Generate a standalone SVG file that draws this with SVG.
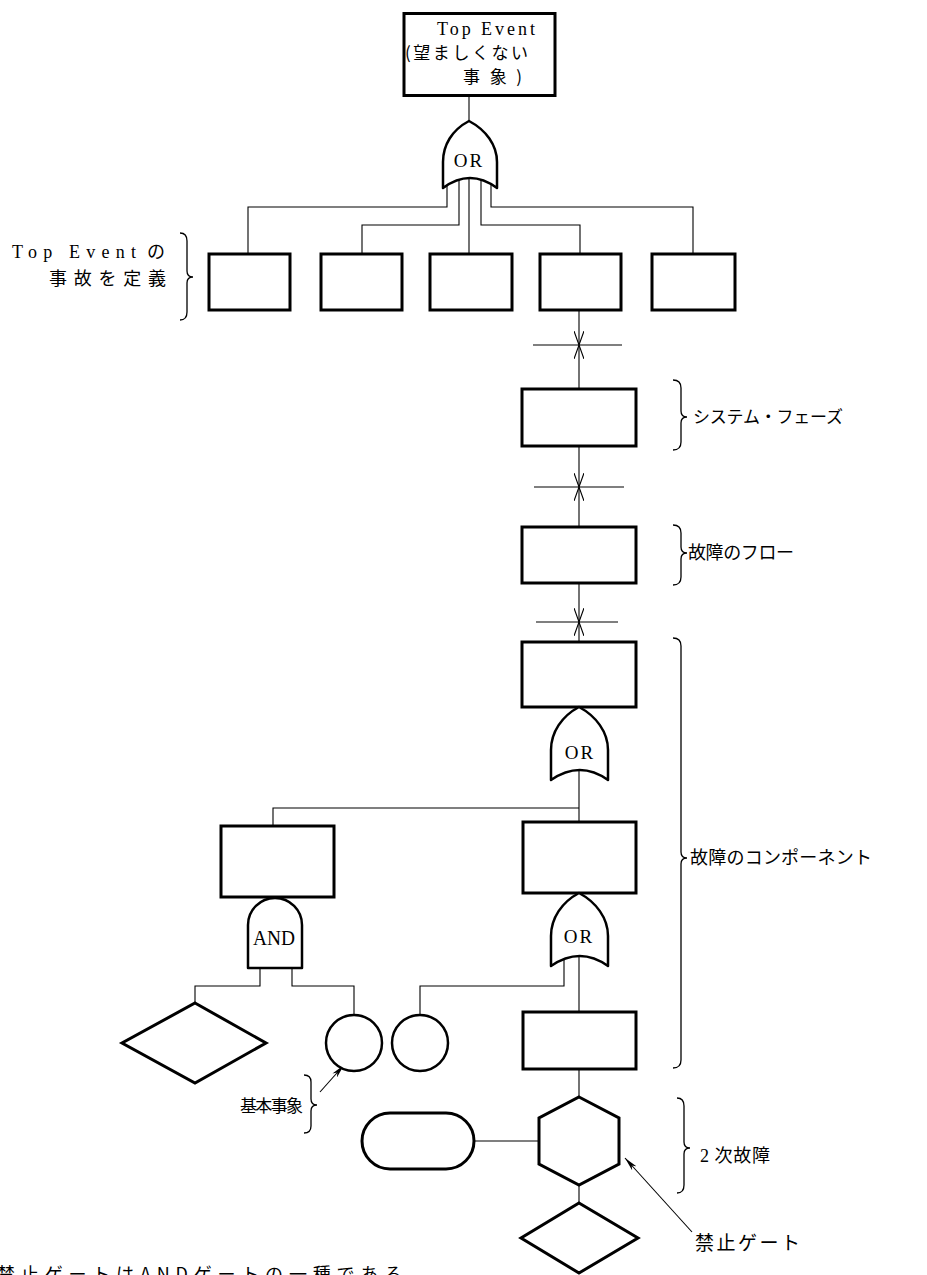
<svg xmlns="http://www.w3.org/2000/svg" width="927" height="1275" viewBox="0 0 927 1275">
  <defs>
    <style>
      .box { fill: #fff; stroke: #000; stroke-width: 3; }
      .gate { fill: #fff; stroke: #000; stroke-width: 2.5; stroke-linejoin: round; }
      .wire { fill: none; stroke: #000; stroke-width: 1.1; }
      .brace { fill: none; stroke: #000; stroke-width: 1.3; }
      .lat { font-family: "Liberation Serif", "Noto Sans CJK JP", serif; fill: #000; }
      .jp { font-family: "Noto Sans CJK JP", "Liberation Serif", sans-serif; font-weight: 400; fill: #000; }
    </style>
    <!-- open V arrowhead used on the phase chain -->
    <marker id="vhead" markerUnits="userSpaceOnUse" markerWidth="14" markerHeight="10" viewBox="0 0 14 10" refX="14" refY="5" orient="auto">
      <path d="M0,0 L14,5 L0,10" fill="none" stroke="#000" stroke-width="1.1"/>
    </marker>
    <!-- slim solid pointer for callouts -->
    <marker id="ptr" markerUnits="userSpaceOnUse" markerWidth="14" markerHeight="6" viewBox="0 0 14 6" refX="14" refY="3" orient="auto">
      <path d="M0,0 L14,3 L0,6 L4,3 Z" fill="#000"/>
    </marker>
    <path id="orShape" d="M0,0 C17,9 29,25 29,43 L29,73 Q1,53 -28,73 L-28,43 C-28,25 -17,9 0,0 Z"/>
  </defs>

  <!-- connectors -->
  <g id="connectors">
    <path class="wire" d="M469,96 V121"/>
    <!-- top OR fan-out -->
    <path class="wire" d="M447,175 V207 H248 V254"/>
    <path class="wire" d="M459,175 V225 H362 V254"/>
    <path class="wire" d="M469,175 V254"/>
    <path class="wire" d="M481,175 V225 H580 V254"/>
    <path class="wire" d="M491,175 V207 H693 V254"/>
    <!-- phase chain with boundary marks -->
    <path class="wire" d="M579,310 V345" marker-end="url(#vhead)"/>
    <path class="wire" d="M579,389 V345" marker-end="url(#vhead)"/>
    <path class="wire" d="M533,345 H622"/>
    <path class="wire" d="M579,446 V487" marker-end="url(#vhead)"/>
    <path class="wire" d="M579,527 V487" marker-end="url(#vhead)"/>
    <path class="wire" d="M534,487 H624"/>
    <path class="wire" d="M579,583 V622" marker-end="url(#vhead)"/>
    <path class="wire" d="M579,642 V622" marker-end="url(#vhead)"/>
    <path class="wire" d="M536,622 H618"/>
    <!-- component level -->
    <path class="wire" d="M579,760 V822"/>
    <path class="wire" d="M579,808 H273 V826"/>
    <path class="wire" d="M260,960 V986 H195 V1003"/>
    <path class="wire" d="M292,960 V986 H354 V1015"/>
    <path class="wire" d="M579,950 V1012"/>
    <path class="wire" d="M564,955 V986 H420 V1015"/>
    <path class="wire" d="M579,1069 V1097"/>
    <path class="wire" d="M579,1185 V1203"/>
    <path class="wire" d="M474,1141 H539"/>
    <!-- callout pointers -->
    <path class="wire" d="M692,1232 L625,1158" marker-end="url(#ptr)"/>
    <path class="wire" d="M320,1092 L344,1065" marker-end="url(#ptr)"/>
  </g>

  <!-- top event -->
  <g id="top-event">
    <rect class="box" x="404" y="13.5" width="151" height="82"/>
    <text class="lat" x="437" y="35" font-size="18" textLength="98" lengthAdjust="spacing">Top Event</text>
    <text class="jp" x="405" y="59" font-size="17" textLength="123" lengthAdjust="spacing">(望ましくない</text>
    <text class="jp" x="463" y="83" font-size="17" textLength="59" lengthAdjust="spacing">事象)</text>
  </g>

  <g id="or-top">
    <path class="gate" d="M469,121 C486,130 497,145 497,162 L497,188 Q470,168 443,188 L443,162 C443,145 452,130 469,121 Z"/>
    <text class="lat" x="469" y="167" font-size="19" text-anchor="middle" letter-spacing="2">OR</text>
  </g>

  <!-- top event definition row -->
  <g id="def-1"><rect class="box" x="209" y="254" width="81" height="56"/></g>
  <g id="def-2"><rect class="box" x="321" y="254" width="81" height="56"/></g>
  <g id="def-3"><rect class="box" x="430" y="254" width="82" height="56"/></g>
  <g id="def-4"><rect class="box" x="540" y="254" width="81" height="56"/></g>
  <g id="def-5"><rect class="box" x="652" y="254" width="83" height="56"/></g>

  <g id="label-definition">
    <text class="lat" font-size="18"><tspan x="12" y="258" textLength="124" lengthAdjust="spacing">Top Event</tspan><tspan class="jp" x="147" y="258">の</tspan></text>
    <text class="jp" x="49" y="285" font-size="18" textLength="117" lengthAdjust="spacing">事故を定義</text>
    <path class="brace" d="M180,233 Q187,233 187,241 L187,271 Q187,277 193,277 Q187,277 187,283 L187,312 Q187,320 180,320"/>
  </g>

  <!-- system phase -->
  <g id="system-phase">
    <rect class="box" x="522" y="389" width="114" height="57"/>
  </g>
  <g id="label-system">
    <path class="brace" d="M673,380 Q681,380 681,388 L681,411 Q681,417 687,417 Q681,417 681,423 L681,442 Q681,450 673,450"/>
    <text class="jp" x="693" y="423" font-size="17" textLength="150" lengthAdjust="spacing">システム・フェーズ</text>
  </g>

  <!-- fault flow -->
  <g id="fault-flow">
    <rect class="box" x="522" y="527" width="114" height="56"/>
  </g>
  <g id="label-flow">
    <path class="brace" d="M673,525 Q681,525 681,533 L681,547 Q681,553 687,553 Q681,553 681,559 L681,577 Q681,585 673,585"/>
    <text class="jp" x="688" y="559" font-size="18" textLength="106" lengthAdjust="spacing">故障のフロー</text>
  </g>

  <!-- component level -->
  <g id="component-top">
    <rect class="box" x="522" y="642" width="114" height="65"/>
  </g>
  <g id="or-component">
    <use href="#orShape" class="gate" x="579" y="707"/>
    <text class="lat" x="580" y="759" font-size="19" text-anchor="middle" letter-spacing="2">OR</text>
  </g>
  <g id="component-left">
    <rect class="box" x="221" y="826" width="113" height="71"/>
  </g>
  <g id="and-gate">
    <path class="gate" d="M248,968 L248,925 A27,27 0 0 1 302,925 L302,968 Z"/>
    <text class="lat" x="253" y="945" font-size="21" textLength="42" lengthAdjust="spacingAndGlyphs">AND</text>
  </g>
  <g id="component-right">
    <rect class="box" x="523" y="822" width="113" height="71"/>
  </g>
  <g id="or-lower">
    <use href="#orShape" class="gate" x="579" y="893"/>
    <text class="lat" x="579" y="943" font-size="19" text-anchor="middle" letter-spacing="2">OR</text>
  </g>
  <g id="component-bottom">
    <rect class="box" x="523" y="1012" width="113" height="57"/>
  </g>
  <g id="label-component">
    <path class="brace" d="M673,638 Q681,638 681,646 L681,852 Q681,858 687,858 Q681,858 681,864 L681,1060 Q681,1068 673,1068"/>
    <text class="jp" x="690" y="864" font-size="18" textLength="182" lengthAdjust="spacing">故障のコンポーネント</text>
  </g>

  <!-- basic events -->
  <g id="undeveloped-left">
    <polygon class="box" points="195,1003 266,1043 195,1083 122,1043"/>
  </g>
  <g id="basic-1"><circle class="gate" cx="354" cy="1043" r="28"/></g>
  <g id="basic-2"><circle class="gate" cx="420" cy="1043" r="28"/></g>
  <g id="label-basic">
    <text class="jp" x="240" y="1112" font-size="17" textLength="63" lengthAdjust="spacing">基本事象</text>
    <path class="brace" d="M304,1075 Q311,1075 311,1082 L311,1099 Q311,1105 317,1105 Q311,1105 311,1111 L311,1126 Q311,1133 304,1133"/>
  </g>

  <!-- secondary failure / inhibit gate -->
  <g id="condition">
    <rect class="box" x="362" y="1113" width="112" height="56" rx="28" ry="28"/>
  </g>
  <g id="inhibit-gate">
    <polygon class="box" points="579,1097 619,1118 619,1164 579,1185 539,1164 539,1118"/>
  </g>
  <g id="undeveloped-bottom">
    <polygon class="box" points="579,1203 638,1238 579,1273 521,1238"/>
  </g>
  <g id="label-secondary">
    <path class="brace" d="M677,1098 Q684,1098 684,1106 L684,1142 Q684,1148 690,1148 Q684,1148 684,1154 L684,1185 Q684,1193 677,1193"/>
    <text class="jp" x="700" y="1162" font-size="18" textLength="70" lengthAdjust="spacing"><tspan class="lat">2</tspan> 次故障</text>
  </g>
  <g id="label-inhibit">
    <text class="jp" x="695" y="1250" font-size="19" textLength="105" lengthAdjust="spacing">禁止ゲート</text>
  </g>

  <!-- footnote running off the lower edge -->
  <g id="footnote">
    <text class="jp" x="-3" y="1281" font-size="18" textLength="405" lengthAdjust="spacing">禁止ゲートはANDゲートの一種である</text>
  </g>
</svg>
